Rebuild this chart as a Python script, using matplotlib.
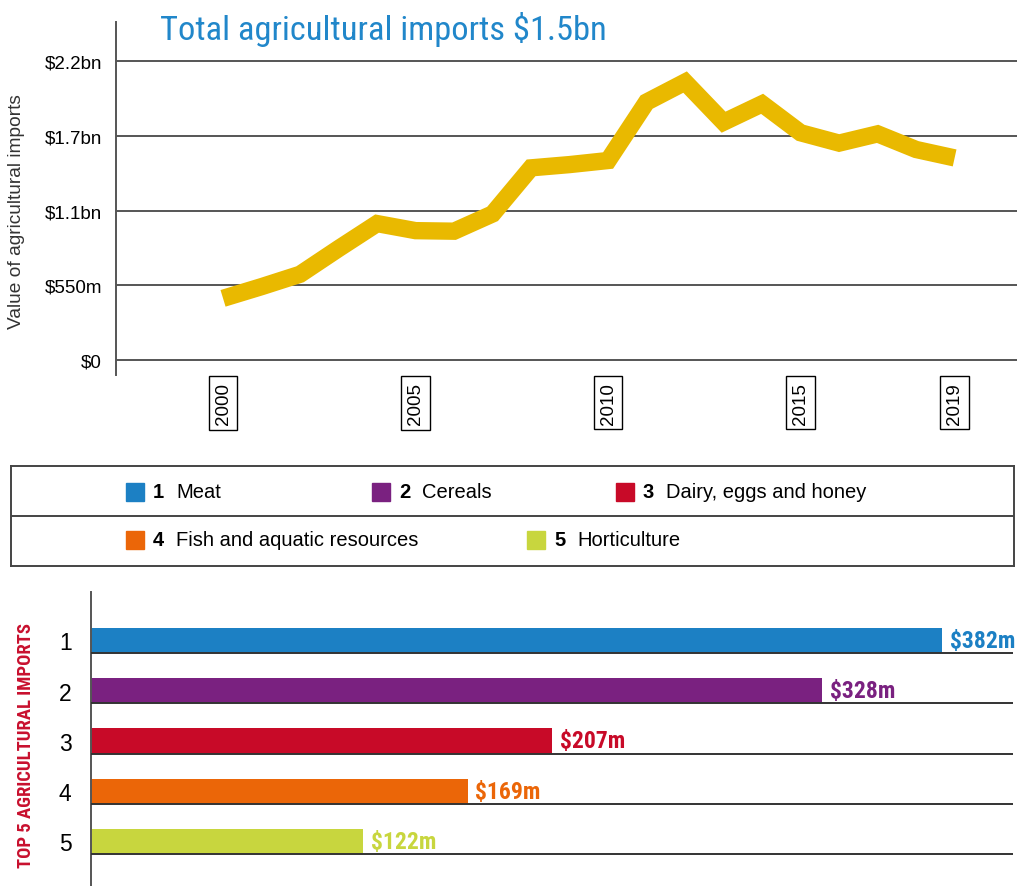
import matplotlib
matplotlib.use("Agg")
import matplotlib.pyplot as plt
from matplotlib.patches import Rectangle

matplotlib.rcParams['font.family'] = ['Liberation Sans', 'DejaVu Sans']
NARROW = ['Roboto Condensed', 'Archivo Narrow', 'Liberation Sans Narrow', 'Liberation Sans']

# total agricultural imports, $bn
years = list(range(2000, 2020))
imports_bn = [0.454, 0.54, 0.631, 0.82, 1.004, 0.952, 0.948, 1.075, 1.414, 1.438,
              1.468, 1.898, 2.045, 1.750, 1.885, 1.672, 1.596, 1.664, 1.549, 1.487]
y_ticks = [0, 0.55, 1.1, 1.65, 2.2]
y_ticklabels = ['$0', '$550m', '$1.1bn', '$1.7bn', '$2.2bn']
x_ticks = [2000, 2005, 2010, 2015, 2019]

# top 5 imports, $m
ranks = ['1', '2', '3', '4', '5']
products = ['Meat', 'Cereals', 'Dairy, eggs and honey', 'Fish and aquatic resources', 'Horticulture']
values_m = [382, 328, 207, 169, 122]
colours = ['#1c80c4', '#7a2180', '#c80a28', '#eb6608', '#c8d63e']

W, H = 1017, 887
fig = plt.figure(figsize=(W / 100, H / 100), dpi=100)


def box(l, t, r, b):
    return [l / W, 1 - b / H, (r - l) / W, (b - t) / H]


# ---- line chart ----
ax = fig.add_axes(box(116, 23, 1017, 376))
ax.plot(years, imports_bn, color='#e9b900', lw=12.5, solid_capstyle='butt', solid_joinstyle='miter', zorder=3)
ax.set_xlim(1997.22, 2020.62)
ax.set_ylim(-0.11, 2.487)
ax.set_yticks(y_ticks)
ax.set_yticklabels(y_ticklabels, fontsize=13.5)
ax.set_xticks(x_ticks)
ax.set_xticklabels([str(x) for x in x_ticks], rotation=90, fontsize=13.5)
ax.tick_params(axis='both', length=0)
ax.tick_params(axis='y', pad=10)
ax.tick_params(axis='x', pad=5)
for lab in ax.get_xticklabels():
    lab.set_bbox(dict(boxstyle='square,pad=0.3', fc='white', ec='black', lw=1))
ax.grid(axis='y', color='#555555', lw=1.4)
ax.set_axisbelow(True)
for s in ['top', 'right', 'bottom']:
    ax.spines[s].set_visible(False)
ax.spines['left'].set_color('#555555')
ax.spines['left'].set_linewidth(1.4)

fig.text(160 / W, 1 - 40 / H, 'Total agricultural imports $1.5bn', family=NARROW,
         fontsize=24.8, color='#2187ca', va='baseline', ha='left')
fig.text(17 / W, 1 - 212 / H, 'Value of agricultural imports', rotation=90,
         fontsize=13.8, color='#333333', va='center', ha='center')

# ---- legend ----
lg = fig.add_axes(box(11, 467, 1014, 567))
lg.set_xlim(0, 1003)
lg.set_ylim(100, 0)
lg.set_xticks([])
lg.set_yticks([])
for s in lg.spines.values():
    s.set_color('#444444')
    s.set_linewidth(1.4)
lg.axhline(50, color='#444444', lw=1.4)
slots = [(115, 26), (361, 26), (605, 26), (115, 74), (516, 74)]
for (sx, sy), r, name, c in zip(slots, ranks, products, colours):
    lg.add_patch(Rectangle((sx, sy - 9), 18, 18, color=c))
    lg.text(sx + 27, sy, r, fontsize=14.5, fontweight='bold', va='center', ha='left')
    lg.text(sx + 50, sy, name, fontsize=14.5, va='center', ha='left')

# ---- bar chart ----
bx = fig.add_axes(box(91, 593, 1013, 887))
pos = list(range(len(values_m)))
bx.barh(pos, values_m, height=0.5, color=colours, zorder=2)
bx.hlines([p + 0.25 for p in pos], 0, 413.8, color='#333333', lw=1.4, zorder=3)
bx.set_xlim(0, 413.8)
bx.set_ylim(4.886, -0.965)
bx.set_xticks([])
bx.set_yticks(pos)
bx.set_yticklabels(ranks, fontsize=16.5)
bx.tick_params(axis='y', length=0, pad=14)
for s in ['top', 'right', 'bottom']:
    bx.spines[s].set_visible(False)
bx.spines['left'].set_color('#555555')
bx.spines['left'].set_linewidth(1.4)
for p, v, c in zip(pos, values_m, colours):
    bx.text(v + 3.5, p, f'${v}m', family=NARROW, fontsize=17, fontweight='bold',
            color=c, va='center', ha='left')

fig.text(26 / W, 1 - 745 / H, 'TOP 5 AGRICULTURAL IMPORTS', family=NARROW, rotation=90,
         fontsize=13.4, fontweight='bold', color='#c8102e', va='center', ha='center')

fig.savefig('out.png', dpi=100)
